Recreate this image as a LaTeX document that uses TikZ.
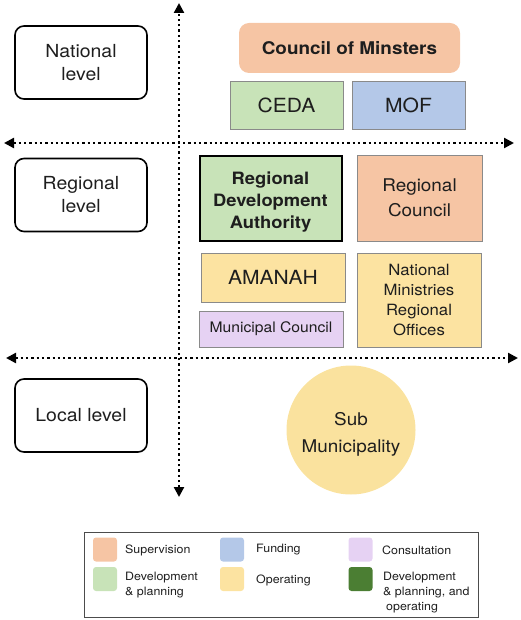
\documentclass[tikz,border=0pt]{standalone}
\usepackage{fontspec}
\setmainfont[FakeStretch=1.08]{TeX Gyre Heros}
\usetikzlibrary{arrows.meta}
\definecolor{supcol}{HTML}{F6C5A4}
\definecolor{devcol}{HTML}{C8E3B8}
\definecolor{fundcol}{HTML}{B4C8E8}
\definecolor{opcol}{HTML}{FCE3A1}
\definecolor{conscol}{HTML}{E6D2F3}
\definecolor{bothcol}{HTML}{4B7E33}
\definecolor{subcol}{HTML}{FAE29E}
\definecolor{edgecol}{HTML}{8A8A8A}
\definecolor{inkcol}{HTML}{1E1E1E}

\begin{document}
\begin{tikzpicture}[x=1pt,y=-1pt,
  levelbox/.style={draw=black, line width=1.6pt, rounded corners=9pt, minimum width=132pt, minimum height=73pt, align=center, text=inkcol, font=\fontsize{18}{23}\selectfont},
  orgbox/.style={draw=edgecol, line width=0.8pt, align=center, text=inkcol, inner sep=0pt},
  axisline/.style={line width=2.3pt, dash pattern=on 2.3pt off 3pt, {Triangle[length=10pt,width=10pt]}-{Triangle[length=10pt,width=10pt]}},
  swatch/.style={rounded corners=3pt, minimum width=24pt, minimum height=24pt, inner sep=0pt},
  keytext/.style={anchor=west, inner sep=0pt, align=left, text=inkcol, font=\fontsize{11.5}{15}\selectfont}]
\useasboundingbox (0,0) rectangle (520,620);
\coordinate (vtop) at (179,3);
\coordinate (vbot) at (179,497);
\coordinate (hnl) at (4,143);
\coordinate (hnr) at (514,143);
\coordinate (hrl) at (6,358);
\coordinate (hrr) at (518,358);
\draw[axisline] (vbot) -- (vtop);
\draw[axisline] (hnl) -- (hnr);
\draw[axisline] (hrl) -- (hrr);
\node[levelbox] (natlevel) at (81,62.5) {National\\level};
\node[levelbox] (reglevel) at (81,195) {Regional\\level};
\node[levelbox] (loclevel) at (81,415.5) {Local level};
\node[orgbox, fill=supcol, draw=none, rounded corners=10pt, minimum width=221pt, minimum height=50pt, font=\bfseries\fontsize{17.5}{21}\selectfont] (council) at (349.5,48) {Council of Minsters};
\node[orgbox, fill=devcol, minimum width=113pt, minimum height=48pt, font=\fontsize{19.5}{23}\selectfont] (ceda) at (286.5,105) {CEDA};
\node[orgbox, fill=fundcol, minimum width=113pt, minimum height=48pt, font=\fontsize{19.5}{23}\selectfont] (mof) at (408.5,105) {MOF};
\node[orgbox, fill=devcol, draw=black, line width=2pt, minimum width=142pt, minimum height=84pt, font=\bfseries\fontsize{17}{22}\selectfont] (rda) at (270.5,198.5) {\rule{0pt}{19pt}Regional\\Development\\Authority};
\node[orgbox, fill=supcol, minimum width=125pt, minimum height=86pt, font=\fontsize{17.5}{25}\selectfont] (regcouncil) at (419.5,198) {Regional\\Council};
\node[orgbox, fill=opcol, minimum width=144pt, minimum height=49pt, font=\fontsize{19.5}{23}\selectfont] (amanah) at (273,277.5) {AMANAH};
\node[orgbox, fill=conscol, minimum width=144pt, minimum height=36pt, font=\fontsize{14.5}{18}\selectfont] (municipal) at (271,329) {Municipal Council};
\node[orgbox, fill=opcol, minimum width=124pt, minimum height=94pt, font=\fontsize{15.5}{20}\selectfont] (ministries) at (419,300) {National\\Ministries\\Regional\\Offices};
\node[circle, fill=subcol, minimum size=129pt, inner sep=0pt, align=center, text=inkcol, font=\fontsize{17.5}{27}\selectfont] (submun) at (351,430) {\rule{0pt}{21pt}Sub\\Municipality};
\node[draw=black!70, line width=0.8pt, minimum width=394pt, minimum height=85pt, inner sep=0pt] (legend) at (281,574.5) {};
\node[swatch, fill=supcol] (keysup) at (105,549.5) {};
\node[swatch, fill=fundcol] (keyfund) at (232,549.5) {};
\node[swatch, fill=conscol] (keycons) at (360.5,549.5) {};
\node[swatch, fill=devcol] (keydev) at (105,579) {};
\node[swatch, fill=opcol] (keyop) at (232,579) {};
\node[swatch, fill=bothcol] (keyboth) at (360.5,579) {};
\node[keytext] (txtsup) at (125,550) {Supervision};
\node[keytext] (txtfund) at (256,550) {Funding};
\node[keytext] (txtcons) at (382,550) {Consultation};
\node[keytext] (txtdev) at (125,585.5) {Development\\\& planning};
\node[keytext] (txtop) at (256,580) {Operating};
\node[keytext] (txtboth) at (383,593) {Development\\\& planning, and\\\hspace{3pt}operating};
\end{tikzpicture}
\end{document}
